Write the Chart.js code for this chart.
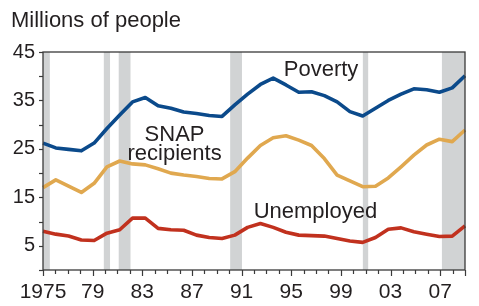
<!DOCTYPE html>
<html>
<head>
<meta charset="utf-8">
<script src="https://cdn.jsdelivr.net/npm/chart.js@4/dist/chart.umd.min.js"></script>
<style>
html,body{margin:0;padding:0;background:#fff;}
#wrap{width:479px;height:306px;position:relative;}
</style>
</head>
<body>
<div id="wrap"><canvas id="c" width="479" height="306"></canvas></div>
<script>
// ---- data ----
const years = [1975,1976,1977,1978,1979,1980,1981,1982,1983,1984,1985,1986,1987,1988,1989,1990,1991,1992,1993,1994,1995,1996,1997,1998,1999,2000,2001,2002,2003,2004,2005,2006,2007,2008];
const poverty = [26.2,25.2,24.9,24.6,26.2,29.2,32.0,34.7,35.6,33.9,33.4,32.6,32.3,31.9,31.7,34.1,36.3,38.3,39.6,38.2,36.7,36.8,36.0,34.7,32.7,31.8,33.4,35.0,36.3,37.4,37.2,36.7,37.6,40.1];
const snap = [17.0,18.6,17.3,16.0,17.9,21.3,22.5,21.9,21.7,20.9,20.0,19.6,19.3,18.9,18.8,20.3,23.1,25.7,27.3,27.7,26.8,25.7,23.0,19.6,18.4,17.2,17.3,19.0,21.3,23.7,25.8,27.0,26.5,28.9];
const unemployed = [8.0,7.4,7.0,6.2,6.1,7.6,8.3,10.7,10.7,8.6,8.3,8.2,7.2,6.7,6.5,7.2,8.8,9.6,8.8,7.8,7.2,7.1,7.0,6.5,6.0,5.7,6.7,8.4,8.7,7.9,7.4,6.9,7.0,9.1];
const recessionStart = [1975,1979.9,1981.1,1990.08,2000.77,2007.14];
const recessionEnd = [1975.55,1980.4,1982.05,1991.03,2001.2,2009];
const xTickYears = [1975,1979,1983,1987,1991,1995,1999,2003,2007];
const xTickLabels = ['1975','79','83','87','91','95','99','03','07'];
const yTickValues = [5,15,25,35,45];
const yTickLabels = ['5','15','25','35','45'];
const seriesNames = ['Poverty','SNAP recipients','Unemployed'];
const titleText = 'Millions of people';

// ---- layout / style (not data) ----
const FONT = '"Liberation Sans", Arial, Helvetica, sans-serif';
const TEXT = '#231f20';
const AXIS = '#3a3a3a';
const labelAnchors = [
  {lines:['Poverty'], x:1997.4, y:40.05},
  {lines:['SNAP','recipients'], x:1985.6, y:26.6, lh:19},
  {lines:['Unemployed'], x:1996.95, y:10.8}
];

const overlay = {
  id:'overlay',
  beforeDatasetsDraw(chart){
    const {ctx, chartArea:a} = chart;
    const xs = chart.scales.xt;
    ctx.save();
    ctx.beginPath(); ctx.rect(a.left, a.top, a.right-a.left, a.bottom-a.top); ctx.clip();
    ctx.fillStyle = '#d1d3d4';
    for (let i=0;i<recessionStart.length;i++){
      const x0 = xs.getPixelForValue(recessionStart[i]);
      const x1 = xs.getPixelForValue(recessionEnd[i]);
      ctx.fillRect(x0, a.top, x1-x0, a.bottom-a.top);
    }
    ctx.restore();
  },
  afterDraw(chart){
    const {ctx, chartArea:a} = chart;
    const xs = chart.scales.xt, ys = chart.scales.y;
    ctx.save();
    // frame
    ctx.strokeStyle = AXIS; ctx.lineWidth = 1.3;
    ctx.strokeRect(a.left, a.top, a.right-a.left, a.bottom-a.top);
    // x ticks
    ctx.lineWidth = 1.2;
    for (let yr=1975; yr<=2009; yr++){
      const px = Math.round(xs.getPixelForValue(yr))+0.5;
      const major = xTickYears.includes(yr) || yr===2009;
      ctx.beginPath(); ctx.moveTo(px, a.bottom); ctx.lineTo(px, a.bottom + (major?6:4)); ctx.stroke();
    }
    // y ticks
    for (let v=0; v<=45; v+=5){
      const py = Math.round(ys.getPixelForValue(v))+0.5;
      ctx.beginPath(); ctx.moveTo(a.left-4, py); ctx.lineTo(a.left, py); ctx.stroke();
    }
    // title
    ctx.fillStyle = TEXT;
    ctx.font = '22px ' + FONT;
    ctx.textAlign = 'left'; ctx.textBaseline = 'alphabetic';
    ctx.fillText(titleText, 11, 27);
    // series labels
    ctx.font = '22px ' + FONT;
    ctx.textAlign = 'center';
    labelAnchors.forEach(l=>{
      const px = xs.getPixelForValue(l.x), py = ys.getPixelForValue(l.y);
      l.lines.forEach((t,i)=> ctx.fillText(t, px, py + i*(l.lh||0)));
    });
    ctx.restore();
  }
};

new Chart(document.getElementById('c'), {
  type:'line',
  data:{
    labels: years,
    datasets:[
      {label:seriesNames[0], data:poverty, borderColor:'#0b4a8b', borderWidth:3.6},
      {label:seriesNames[1], data:snap, borderColor:'#e0a84f', borderWidth:3.6},
      {label:seriesNames[2], data:unemployed, borderColor:'#c1311e', borderWidth:3.6}
    ].map(d=>Object.assign(d,{pointRadius:0, tension:0, fill:false, borderJoinStyle:'round', borderCapStyle:'butt'}))
  },
  options:{
    responsive:false, animation:false,
    layout:{padding:{top:52, right:14, left:0, bottom:0}},
    plugins:{legend:{display:false}, tooltip:{enabled:false}, title:{display:false}},
    scales:{
      x:{type:'category', display:false, offset:false},
      xt:{type:'linear', position:'bottom', min:1975, max:2009,
        grid:{display:false, drawTicks:false}, border:{display:false},
        afterBuildTicks(s){ s.ticks = xTickYears.map(v=>({value:v})); },
        afterFit(s){ s.height = 36; },
        ticks:{autoSkip:false, maxRotation:0, padding:10, color:TEXT, font:{family:FONT, size:21},
          callback(v){ const i = xTickYears.indexOf(v); return i>=0 ? xTickLabels[i] : ''; }}
      },
      y:{type:'linear', min:0, max:45,
        grid:{drawOnChartArea:false, drawTicks:false}, border:{display:false},
        afterBuildTicks(s){ s.ticks = [0,5,10,15,20,25,30,35,40,45].map(v=>({value:v})); },
        afterFit(s){ s.width = 43; },
        ticks:{autoSkip:false, padding:8, color:TEXT, font:{family:FONT, size:20},
          callback(v){ const i = yTickValues.indexOf(v); return i>=0 ? yTickLabels[i] : ''; }}
      }
    }
  },
  plugins:[overlay]
});
</script>
</body>
</html>
